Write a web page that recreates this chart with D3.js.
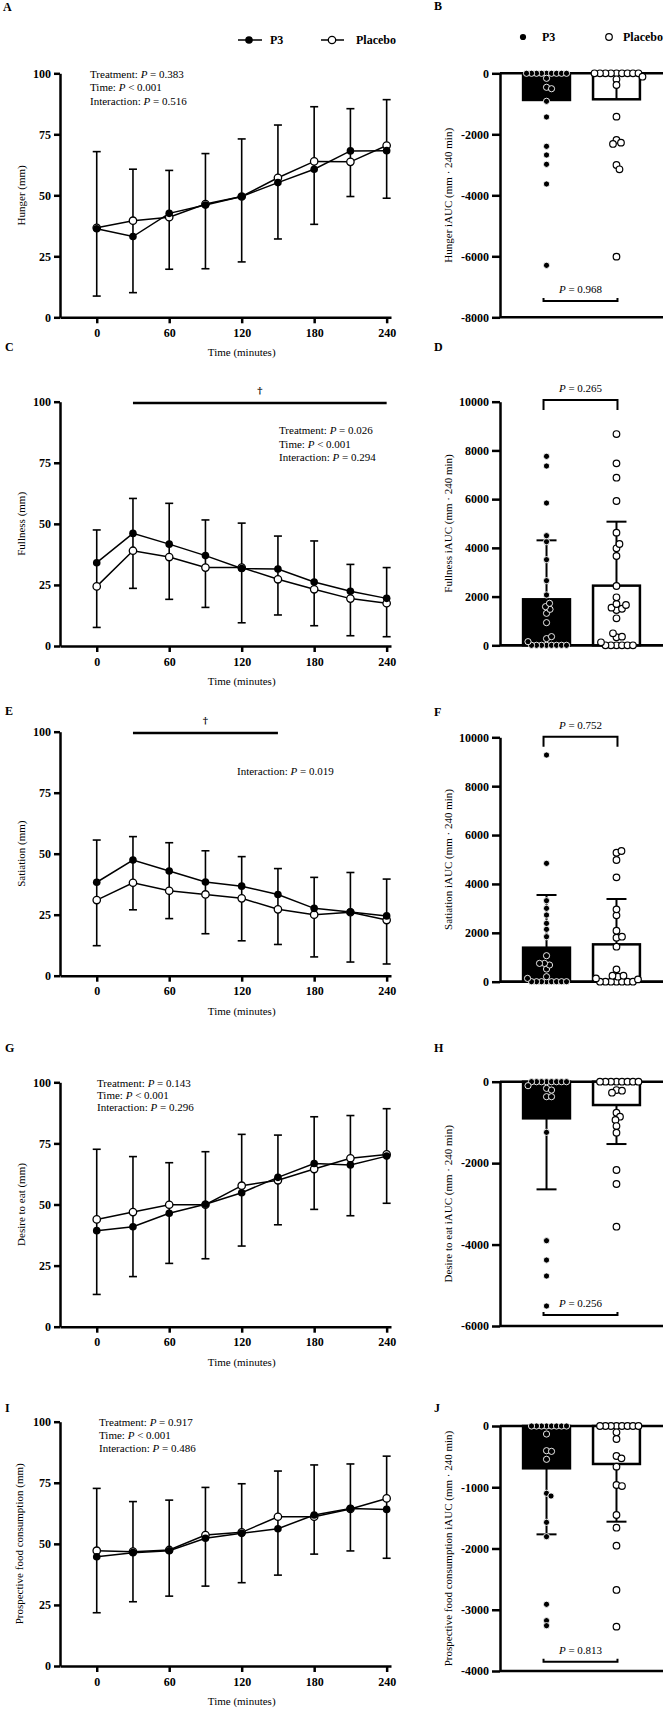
<!DOCTYPE html>
<html>
<head>
<meta charset="utf-8">
<script src="https://cdn.jsdelivr.net/npm/d3@7"></script>
<style>
  body { margin: 0; background: #fff; }
  svg text { font-family: "Liberation Serif", "Times New Roman", serif; fill: #000; }
</style>
</head>
<body>
<svg id="fig" width="670" height="1709"></svg>
<script>
// time points (minutes)
const times = [0, 30, 60, 90, 120, 150, 180, 210, 240];
const groups = ['P3', 'Placebo'];

// VAS means (mm) and the error bar ends
const hungerP3 = [36.3, 33.1, 42.6, 46.0, 49.5, 55.2, 60.7, 68.2, 68.3];
const hungerPlacebo = [36.7, 39.6, 41.0, 46.4, 49.5, 57.2, 63.9, 63.7, 70.4];
const hungerHi = [67.9, 60.7, 60.2, 67.1, 73.1, 78.8, 86.3, 85.5, 89.2];
const hungerLo = [8.7, 10.1, 19.7, 19.9, 22.7, 32.1, 38.1, 49.5, 48.8];

const fullnessP3 = [34.1, 46.1, 41.7, 37.0, 31.7, 31.5, 26.2, 22.4, 19.5];
const fullnessPlacebo = [24.4, 39.0, 36.4, 32.1, 32.1, 27.3, 23.2, 19.4, 17.5];
const fullnessHi = [47.5, 60.4, 58.4, 51.6, 50.3, 45.0, 43.0, 33.4, 32.1];
const fullnessLo = [7.6, 23.6, 19.1, 15.8, 9.5, 12.7, 8.3, 4.2, 3.8];

const satiationP3 = [38.3, 47.4, 42.9, 38.4, 36.7, 33.3, 27.6, 26.1, 24.5];
const satiationPlacebo = [31.0, 38.1, 34.8, 33.3, 31.7, 27.2, 25.0, 26.0, 22.8];
const satiationHi = [55.6, 57.0, 54.5, 51.2, 48.8, 43.9, 40.3, 42.3, 39.6];
const satiationLo = [12.3, 27.0, 23.4, 17.2, 14.3, 12.8, 7.7, 5.6, 4.8];

const desireP3 = [39.3, 40.9, 46.4, 50.1, 54.8, 61.1, 66.8, 66.2, 69.8];
const desirePlacebo = [43.9, 46.9, 49.9, 49.9, 57.7, 59.9, 64.5, 68.9, 70.5];
const desireHi = [72.6, 69.6, 67.1, 71.6, 78.7, 78.4, 85.9, 86.4, 89.2];
const desireLo = [13.2, 20.5, 25.9, 27.8, 33.0, 41.7, 48.0, 45.4, 50.5];

const pfcP3 = [44.7, 46.4, 47.2, 52.3, 54.3, 56.2, 61.8, 64.5, 64.1];
const pfcPlacebo = [47.2, 46.8, 47.5, 53.6, 54.7, 61.1, 61.1, 64.3, 68.6];
const pfcHi = [72.7, 67.3, 67.9, 73.1, 74.6, 79.8, 82.3, 82.7, 85.9];
const pfcLo = [21.8, 26.3, 28.6, 32.7, 34.1, 37.2, 45.8, 47.1, 44.1];

// iAUC (mm · 240 min): individual values, bar means, error bar ends
const hungerAucP3 = [0, 0, 0, 0, 0, 0, 0, 0, 0, -164, -459, -505, -918, -1432, -2394, -2678, -2984, -3629, -6296];
const hungerAucPlacebo = [0, 0, 0, 0, 0, 0, 0, 0, 0, -111, -197, -383, -1421, -2186, -2273, -2317, -3006, -3148, -6011];
const hungerAucMean = [-874, -852];
const hungerAucErr = [0, 0];

const fullnessAucP3 = [0, 0, 0, 0, 0, 0, 0, 0, 150, 274, 356, 930, 1313, 1477, 1587, 1724, 2066, 2654, 3516, 4254, 4500, 5841, 7360, 7757];
const fullnessAucPlacebo = [0, 0, 0, 0, 0, 0, 123, 330, 356, 493, 1108, 1450, 1500, 1546, 1654, 1696, 1970, 2435, 3666, 3981, 4159, 4624, 5923, 6881, 7469, 8673];
const fullnessAucMean = [1888, 2449];
const fullnessAucErr = [4309, 5075];

const satiationAucP3 = [0, 0, 0, 0, 0, 0, 0, 0, 136, 205, 518, 682, 750, 750, 1064, 1841, 2142, 2387, 2728, 3001, 3315, 4842, 9275];
const satiationAucPlacebo = [0, 0, 0, 0, 0, 0, 0, 95, 136, 205, 245, 245, 505, 1432, 1800, 1841, 2087, 2714, 2960, 4269, 4979, 5279, 5347];
const satiationAucMean = [1392, 1528];
const satiationAucErr = [3547, 3383];

const desireAucP3 = [0, 0, 0, 0, 0, 0, 0, 0, -98, -164, -205, -368, -368, -1244, -3905, -4380, -4772, -5509];
const desireAucPlacebo = [0, 0, 0, 0, 0, 0, 0, 0, -205, -221, -270, -761, -860, -941, -1089, -1252, -2169, -2513, -3561];
const desireAucMean = [-900, -573];
const desireAucErr = [-2644, -1531];

const pfcAucP3 = [0, 0, 0, 0, 0, 0, 0, 0, -131, -403, -414, -544, -1099, -1143, -1573, -1807, -2911, -3178, -3260];
const pfcAucPlacebo = [0, 0, 0, 0, 0, 0, 0, 0, -103, -212, -490, -528, -664, -963, -980, -1453, -1660, -1954, -2677, -3276];
const pfcAucMean = [-691, -620];
const pfcAucErr = [-1769, -1562];

// tick labels
const vasTicks = [0, 25, 50, 75, 100];
const timeTicks = [0, 60, 120, 180, 240];

const svg = d3.select('#fig');

function styleAxis(sel) {
  sel.select('.domain').attr('stroke', '#000').attr('stroke-width', 2.5);
  sel.selectAll('.tick line').attr('stroke', '#000').attr('stroke-width', 2.5);
  sel.selectAll('.tick text')
    .attr('fill', '#000')
    .style('font-family', '"Liberation Serif", serif')
    .style('font-size', '12px')
    .style('font-weight', 'bold');
}

function pText(g, x, y, pre, rest, anchor) {
  const t = g.append('text').attr('x', x).attr('y', y)
    .attr('text-anchor', anchor || 'start').style('font-size', '11px');
  t.append('tspan').text(pre);
  t.append('tspan').style('font-style', 'italic').text('P');
  t.append('tspan').text(rest);
}

function panelLetter(x, y, s) {
  svg.append('text').attr('x', x).attr('y', y)
    .style('font-size', '12px').style('font-weight', 'bold').text(s);
}

function linePanel(cfg) {
  const g = svg.append('g');
  const x = d3.scaleLinear().domain([-30.4, 243.6]).range([60, 391]);
  const y = d3.scaleLinear().domain([0, 100]).range([cfg.bottom, cfg.top]);

  g.append('g').attr('transform', `translate(60,0)`)
    .call(d3.axisLeft(y).tickValues(vasTicks).tickSize(6).tickSizeOuter(0)
      .tickPadding(3).tickFormat(String))
    .call(styleAxis);
  g.append('g').attr('transform', `translate(0,${cfg.bottom})`)
    .call(d3.axisBottom(x).tickValues(timeTicks).tickSize(6).tickSizeOuter(0)
      .tickPadding(5).tickFormat(String))
    .call(styleAxis);

  g.append('text').attr('x', (x(0) + x(240)) / 2).attr('y', cfg.bottom + 39)
    .attr('text-anchor', 'middle').style('font-size', '11px').text('Time (minutes)');
  g.append('text')
    .attr('transform', `translate(${cfg.titleX || 25},${(cfg.top + cfg.bottom) / 2}) rotate(-90)`)
    .attr('text-anchor', 'middle').style('font-size', '11px').text(cfg.title);

  // error bars
  times.forEach((t, i) => {
    const cx = x(t);
    g.append('line').attr('x1', cx).attr('x2', cx)
      .attr('y1', y(cfg.lo[i])).attr('y2', y(cfg.hi[i]))
      .attr('stroke', '#000').attr('stroke-width', 1.6);
    [cfg.lo[i], cfg.hi[i]].forEach(v => {
      g.append('line').attr('x1', cx - 4).attr('x2', cx + 4)
        .attr('y1', y(v)).attr('y2', y(v))
        .attr('stroke', '#000').attr('stroke-width', 1.6);
    });
  });

  const line = d3.line().x((d, i) => x(times[i])).y(d => y(d));
  [cfg.pl, cfg.p3].forEach(s => {
    g.append('path').datum(s).attr('d', line)
      .attr('fill', 'none').attr('stroke', '#000').attr('stroke-width', 1.5);
  });
  g.selectAll('.pl').data(cfg.pl).enter().append('circle')
    .attr('cx', (d, i) => x(times[i])).attr('cy', d => y(d)).attr('r', 3.7)
    .attr('fill', '#fff').attr('stroke', '#000').attr('stroke-width', 1.3);
  g.selectAll('.p3').data(cfg.p3).enter().append('circle')
    .attr('cx', (d, i) => x(times[i])).attr('cy', d => y(d)).attr('r', 3.8)
    .attr('fill', '#000');

  if (cfg.dagger) {
    const yb = y(99.5);
    g.append('line').attr('x1', x(cfg.dagger[0])).attr('x2', x(cfg.dagger[1]))
      .attr('y1', yb).attr('y2', yb).attr('stroke', '#000').attr('stroke-width', 2.5);
    g.append('text').attr('x', (x(cfg.dagger[0]) + x(cfg.dagger[1])) / 2).attr('y', yb - 9)
      .attr('text-anchor', 'middle').attr('fill', '#000')
      .style('font-family', '"DejaVu Serif", serif')
      .style('font-size', '10px').style('font-weight', 'bold').text('\u2020');
  }
  cfg.notes.forEach((n, i) => {
    pText(g, cfg.noteX, cfg.noteY + i * cfg.noteGap, n[0], n[1]);
  });
}

// simple beeswarm: horizontal offsets so dots don't overlap
function swarm(values, y, cx, dist) {
  const pts = values.map(v => ({ v, py: y(v) }))
    .sort((a, b) => Math.abs(a.v) - Math.abs(b.v));
  const placed = [];
  pts.forEach(p => {
    for (let k = 0; k < 400; k++) {
      const off = (k % 2 ? 1 : -1) * Math.ceil(k / 2) * 0.5;
      const ok = placed.every(q => (q.px - cx - off) ** 2 + (q.py - p.py) ** 2 >= dist * dist);
      if (ok) { p.px = cx + off; break; }
    }
    placed.push(p);
  });
  return placed;
}

function barPanel(cfg) {
  const g = svg.append('g');
  const x = d3.scaleBand().domain(groups).range([500, 663]).paddingInner(0.33).paddingOuter(0.33);
  const y = d3.scaleLinear().domain(cfg.domain).range([cfg.bottom, cfg.top]);
  const bw = x.bandwidth();

  g.append('g').attr('transform', 'translate(500,0)')
    .call(d3.axisLeft(y).tickValues(cfg.ticks).tickSize(8).tickSizeOuter(0)
      .tickPadding(3).tickFormat(String))
    .call(styleAxis);
  [0, cfg.domain[0]].forEach(v => {
    g.append('line').attr('x1', 500).attr('x2', 663)
      .attr('y1', y(v)).attr('y2', y(v)).attr('stroke', '#000').attr('stroke-width', 2.5);
  });
  g.append('text')
    .attr('transform', `translate(452,${(cfg.top + cfg.bottom) / 2}) rotate(-90)`)
    .attr('text-anchor', 'middle').style('font-size', '11px').text(cfg.title);

  groups.forEach((grp, i) => {
    const m = cfg.mean[i];
    const x0 = x(grp), cx = x0 + bw / 2;
    g.append('rect').attr('x', x0).attr('width', bw)
      .attr('y', Math.min(y(0), y(m))).attr('height', Math.abs(y(0) - y(m)))
      .attr('fill', i === 0 ? '#000' : '#fff')
      .attr('stroke', '#000').attr('stroke-width', 2.5);
    g.append('line').attr('x1', cx).attr('x2', cx)
      .attr('y1', y(m)).attr('y2', y(cfg.err[i]))
      .attr('stroke', '#000').attr('stroke-width', 2);
    if (cfg.cap) {
      g.append('line').attr('x1', cx - 10).attr('x2', cx + 10)
        .attr('y1', y(cfg.err[i])).attr('y2', y(cfg.err[i]))
        .attr('stroke', '#000').attr('stroke-width', 2);
    }
  });

  const pts3 = swarm(cfg.p3, y, x('P3') + bw / 2, 5);
  const ptsP = swarm(cfg.pl, y, x('Placebo') + bw / 2, 5.2);
  g.selectAll('.d3').data(pts3).enter().append('circle')
    .attr('cx', d => d.px).attr('cy', d => d.py).attr('r', 3.1)
    .attr('fill', '#000').attr('stroke', '#fff').attr('stroke-width', 0.9);
  g.selectAll('.dp').data(ptsP).enter().append('circle')
    .attr('cx', d => d.px).attr('cy', d => d.py).attr('r', 3.3)
    .attr('fill', '#fff').attr('stroke', '#000').attr('stroke-width', 1.2);

  const bx1 = x('P3') + bw / 2 - 3, bx2 = x('Placebo') + bw / 2 + 1;
  const by = y(cfg.bracket);
  if (cfg.bracketTop) {
    g.append('path').attr('d', `M${bx1},${by + 10}V${by}H${bx2}V${by + 10}`)
      .attr('fill', 'none').attr('stroke', '#000').attr('stroke-width', 2);
  } else {
    g.append('path').attr('d', `M${bx1},${by - 3}V${by}H${bx2}V${by - 3}`)
      .attr('fill', 'none').attr('stroke', '#000').attr('stroke-width', 2);
  }
  pText(g, (bx1 + bx2) / 2, by - 8, '', cfg.p, 'middle');
}

// legend
const lg = svg.append('g');
lg.append('line').attr('x1', 238).attr('x2', 262).attr('y1', 40).attr('y2', 40).attr('stroke', '#000').attr('stroke-width', 1.5);
lg.append('circle').attr('cx', 249).attr('cy', 40).attr('r', 3.8).attr('fill', '#000');
lg.append('text').attr('x', 270).attr('y', 44).style('font-size', '12px').style('font-weight', 'bold').text('P3');
lg.append('line').attr('x1', 321).attr('x2', 344).attr('y1', 40).attr('y2', 40).attr('stroke', '#000').attr('stroke-width', 1.5);
lg.append('circle').attr('cx', 332).attr('cy', 40).attr('r', 3.7).attr('fill', '#fff').attr('stroke', '#000').attr('stroke-width', 1.3);
lg.append('text').attr('x', 356).attr('y', 44).style('font-size', '12px').style('font-weight', 'bold').text('Placebo');
lg.append('circle').attr('cx', 523).attr('cy', 37).attr('r', 3.1).attr('fill', '#000');
lg.append('text').attr('x', 542).attr('y', 41).style('font-size', '12px').style('font-weight', 'bold').text('P3');
lg.append('circle').attr('cx', 609).attr('cy', 37).attr('r', 3.3).attr('fill', '#fff').attr('stroke', '#000').attr('stroke-width', 1.2);
lg.append('text').attr('x', 623).attr('y', 41).style('font-size', '12px').style('font-weight', 'bold').text('Placebo');

linePanel({ top: 73.3, bottom: 317.3, title: 'Hunger (mm)', p3: hungerP3, pl: hungerPlacebo, hi: hungerHi, lo: hungerLo,
  notes: [['Treatment: ', ' = 0.383'], ['Time: ', ' < 0.001'], ['Interaction: ', ' = 0.516']], noteX: 90, noteY: 78, noteGap: 13.3 });
linePanel({ top: 401.7, bottom: 646, title: 'Fullness (mm)', p3: fullnessP3, pl: fullnessPlacebo, hi: fullnessHi, lo: fullnessLo,
  dagger: [30, 240],
  notes: [['Treatment: ', ' = 0.026'], ['Time: ', ' < 0.001'], ['Interaction: ', ' = 0.294']], noteX: 279, noteY: 434, noteGap: 13.5 });
linePanel({ top: 731.7, bottom: 975.7, title: 'Satiation (mm)', p3: satiationP3, pl: satiationPlacebo, hi: satiationHi, lo: satiationLo,
  dagger: [30, 150],
  notes: [['Interaction: ', ' = 0.019']], noteX: 237, noteY: 775, noteGap: 13.3 });
linePanel({ top: 1082.3, bottom: 1326.7, title: 'Desire to eat (mm)', p3: desireP3, pl: desirePlacebo, hi: desireHi, lo: desireLo,
  notes: [['Treatment: ', ' = 0.143'], ['Time: ', ' < 0.001'], ['Interaction: ', ' = 0.296']], noteX: 97, noteY: 1087, noteGap: 12 });
linePanel({ top: 1421.7, bottom: 1666, title: 'Prospective food consumption (mm)', titleX: 23, p3: pfcP3, pl: pfcPlacebo, hi: pfcHi, lo: pfcLo,
  notes: [['Treatment: ', ' = 0.917'], ['Time: ', ' < 0.001'], ['Interaction: ', ' = 0.486']], noteX: 99, noteY: 1425.7, noteGap: 13.3 });

barPanel({ domain: [-8000, 0], top: 73.3, bottom: 317.3, ticks: [0, -2000, -4000, -6000, -8000],
  title: 'Hunger iAUC (mm \u00b7 240 min)', p3: hungerAucP3, pl: hungerAucPlacebo,
  mean: hungerAucMean, err: hungerAucErr, cap: false, bracket: -7466, p: ' = 0.968' });
barPanel({ domain: [0, 10000], top: 401.7, bottom: 645.3, ticks: [0, 2000, 4000, 6000, 8000, 10000],
  title: 'Fullness iAUC (mm \u00b7 240 min)', p3: fullnessAucP3, pl: fullnessAucPlacebo,
  mean: fullnessAucMean, err: fullnessAucErr, cap: true, bracket: 10070, bracketTop: true, p: ' = 0.265' });
barPanel({ domain: [0, 10000], top: 737.3, bottom: 981.7, ticks: [0, 2000, 4000, 6000, 8000, 10000],
  title: 'Satiation iAUC (mm \u00b7 240 min)', p3: satiationAucP3, pl: satiationAucPlacebo,
  mean: satiationAucMean, err: satiationAucErr, cap: true, bracket: 10025, bracketTop: true, p: ' = 0.752' });
barPanel({ domain: [-6000, 0], top: 1081.7, bottom: 1326, ticks: [0, -2000, -4000, -6000],
  title: 'Desire to eat iAUC (mm \u00b7 240 min)', p3: desireAucP3, pl: desireAucPlacebo,
  mean: desireAucMean, err: desireAucErr, cap: true, bracket: -5730, p: ' = 0.256' });
barPanel({ domain: [-4000, 0], top: 1426, bottom: 1671, ticks: [0, -1000, -2000, -3000, -4000],
  title: 'Prospective food consumption iAUC (mm \u00b7 240 min)', p3: pfcAucP3, pl: pfcAucPlacebo,
  mean: pfcAucMean, err: pfcAucErr, cap: true, bracket: -3848, p: ' = 0.813' });

panelLetter(3, 11, 'A');
panelLetter(434, 10, 'B');
panelLetter(5, 351, 'C');
panelLetter(434, 351, 'D');
panelLetter(5, 715, 'E');
panelLetter(434, 716, 'F');
panelLetter(5, 1052, 'G');
panelLetter(434, 1052, 'H');
panelLetter(5, 1412, 'I');
panelLetter(434, 1412, 'J');
</script>
</body>
</html>
